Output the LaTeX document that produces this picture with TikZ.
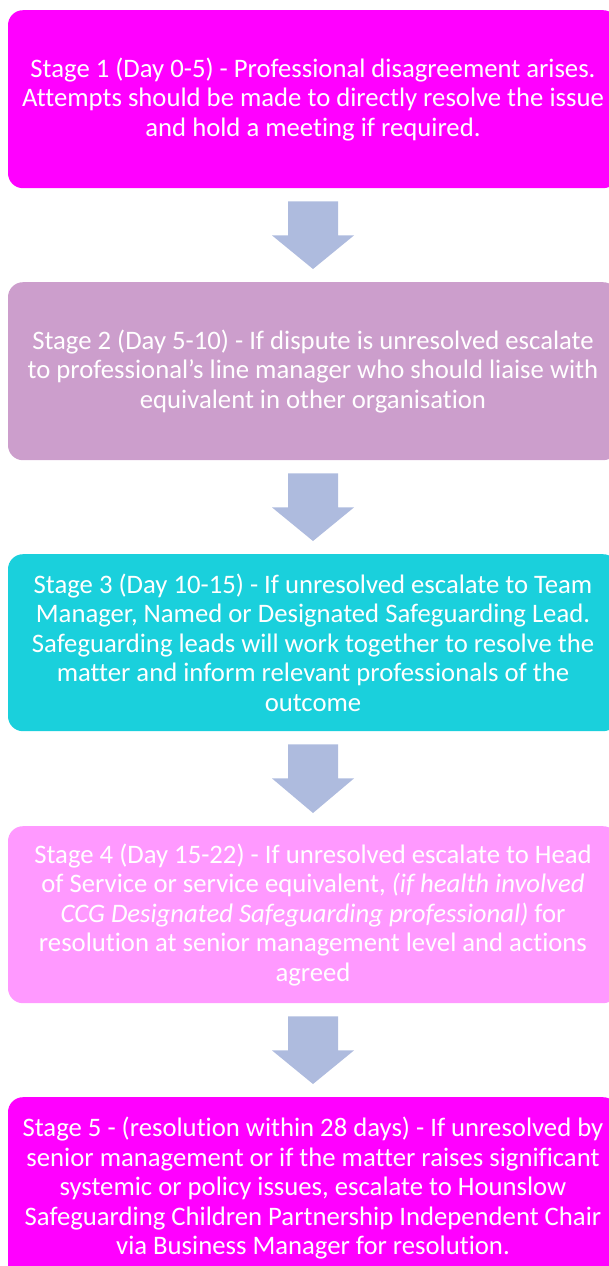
\documentclass[tikz,border=0pt]{standalone}
\usepackage{fontspec}
\setmainfont{Carlito}[Ligatures=NoCommon]
\usetikzlibrary{calc}
\definecolor{cone}{RGB}{255,0,255}
\definecolor{ctwo}{RGB}{204,158,204}
\definecolor{cthree}{RGB}{26,208,220}
\definecolor{cfour}{RGB}{255,153,255}
\definecolor{cfive}{RGB}{255,0,255}
\definecolor{carrow}{RGB}{174,187,222}
\begin{document}
\begin{tikzpicture}[x=1pt,y=-1pt,
  box/.style={rounded corners=15pt, minimum width=610pt, inner sep=0pt, align=center,
    text=white, font=\fontsize{26.7}{29.5}\selectfont, anchor=north},
  blockarrow/.style={fill=carrow, draw=none}]
\useasboundingbox (0,0) rectangle (609,1266);
\clip (0,0) rectangle (609,1266);
\node[box, fill=cone, minimum height=178pt] (b1) at (313,10)
  {Stage 1 (Day 0-5) - Professional disagreement arises.\\Attempts should be made to directly resolve the issue\\and hold a meeting if required.};
\node[box, fill=ctwo, minimum height=178pt] (b2) at (313,282)
  {Stage 2 (Day 5-10) - If dispute is unresolved escalate\\to professional’s line manager who should liaise with\\equivalent in other organisation};
\node[box, fill=cthree, minimum height=177pt] (b3) at (313,554)
  {Stage 3 (Day 10-15) - If unresolved escalate to Team\\Manager, Named or Designated Safeguarding Lead.\\Safeguarding leads will work together to resolve the\\matter and inform relevant professionals of the\\outcome};
\node[box, fill=cfour, minimum height=177pt] (b4) at (313,826)
  {Stage 4 (Day 15-22) - If unresolved escalate to Head\\of Service or service equivalent, \textit{(if health involved}\\\textit{CCG Designated Safeguarding professional)} for\\resolution at senior management level and actions\\agreed};
\node[box, fill=cfive, minimum height=182pt] (b5) at (313,1097)
  {Stage 5 - (resolution within 28 days) - If unresolved by\\senior management or if the matter raises significant\\systemic or policy issues, escalate to Hounslow\\Safeguarding Children Partnership Independent Chair\\via Business Manager for resolution.};
\foreach \a/\b in {b1/b2,b2/b3,b3/b4,b4/b5}{
  \fill[blockarrow] ($(\a.south)+(-25,13)$) -- ($(\a.south)+(25,13)$) -- ($(\a.south)+(25,47)$)
    -- ($(\a.south)+(41,47)$) -- ($(\b.north)+(0,-13)$) -- ($(\a.south)+(-41,47)$)
    -- ($(\a.south)+(-25,47)$) -- cycle;
}
\end{tikzpicture}
\end{document}
